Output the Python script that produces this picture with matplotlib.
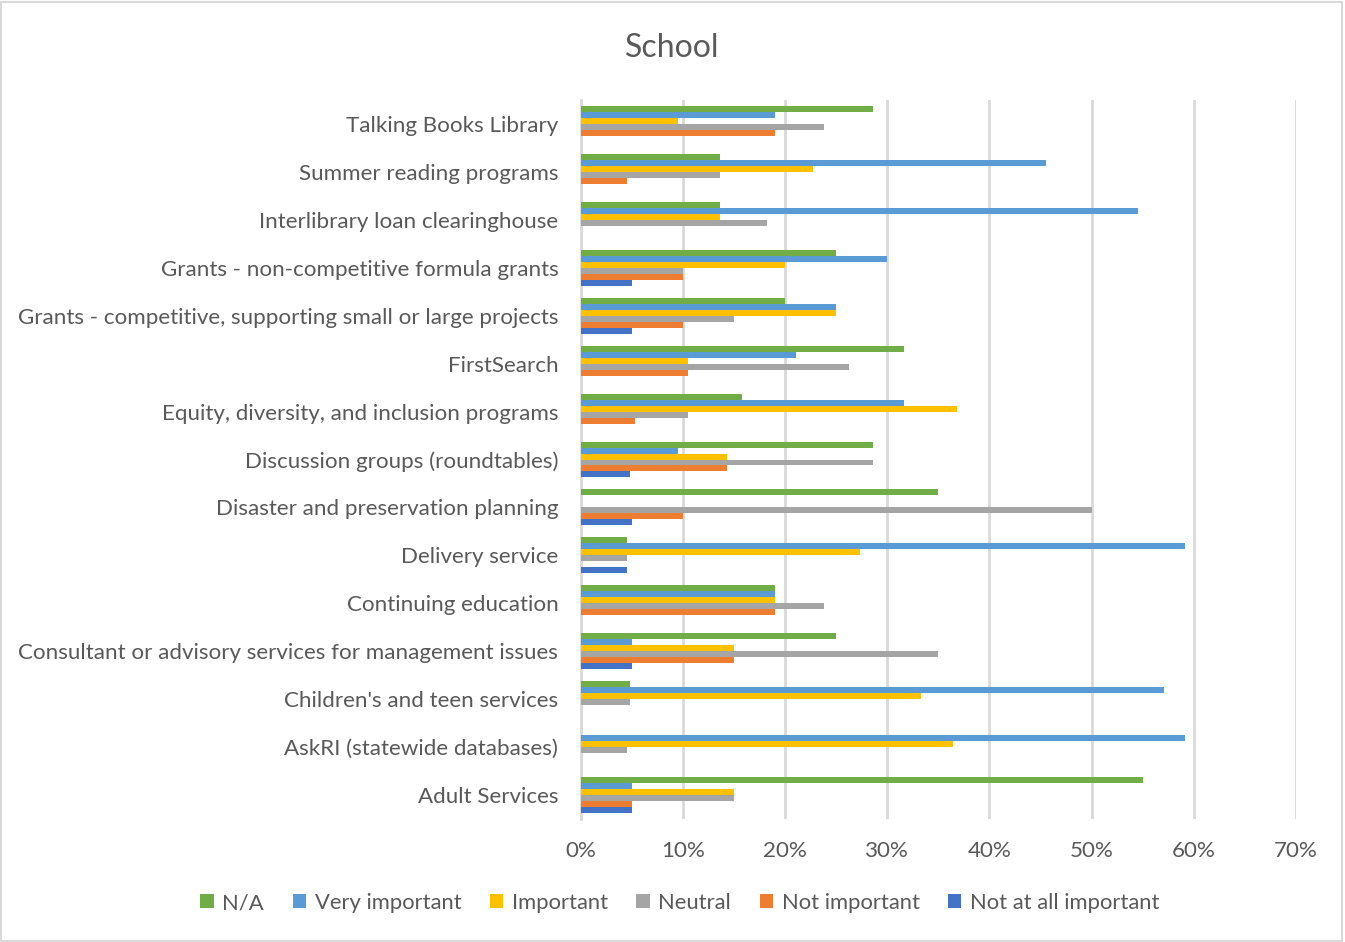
import numpy as np
import matplotlib
matplotlib.use("Agg")
import matplotlib.pyplot as plt
from matplotlib.patches import Rectangle
from matplotlib.ticker import PercentFormatter

plt.rcParams['font.family'] = ['Lato', 'DejaVu Sans']

# Services, listed top to bottom as they appear on the chart
services = [
    "Talking Books Library",
    "Summer reading programs",
    "Interlibrary loan clearinghouse",
    "Grants - non-competitive formula grants",
    "Grants - competitive, supporting small or large projects",
    "FirstSearch",
    "Equity, diversity, and inclusion programs",
    "Discussion groups (roundtables)",
    "Disaster and preservation planning",
    "Delivery service",
    "Continuing education",
    "Consultant or advisory services for management issues",
    "Children's and teen services",
    "AskRI (statewide databases)",
    "Adult Services",
]

# Share of respondents (%) per rating, same order as services
na_pct = [28.6, 13.6, 13.6, 25, 20, 31.6, 15.8, 28.6, 35, 4.5, 19.0, 25, 4.8, 0, 55]
very_important = [19.0, 45.5, 54.5, 30, 25, 21.1, 31.6, 9.5, 0, 59.1, 19.0, 5, 57.1, 59.1, 5]
important = [9.5, 22.7, 13.6, 20, 25, 10.5, 36.8, 14.3, 0, 27.3, 19.0, 15, 33.3, 36.4, 15]
neutral = [23.8, 13.6, 18.2, 10, 15, 26.3, 10.5, 28.6, 50, 4.5, 23.8, 35, 4.8, 4.5, 15]
not_important = [19.0, 4.5, 0, 10, 10, 10.5, 5.3, 14.3, 10, 0, 19.0, 15, 0, 0, 5]
not_at_all = [0, 0, 0, 5, 5, 0, 0, 4.8, 5, 4.5, 0, 5, 0, 0, 5]

series = [
    ("N/A", na_pct, "#70AD47"),
    ("Very important", very_important, "#5B9BD5"),
    ("Important", important, "#FFC000"),
    ("Neutral", neutral, "#A5A5A5"),
    ("Not important", not_important, "#ED7D31"),
    ("Not at all important", not_at_all, "#4472C4"),
]

text_col = "#595959"
grid_col = "#D9D9D9"

fig = plt.figure(figsize=(13.45, 9.42), dpi=100)
ax = fig.add_axes([0.4316, 0.1306, 0.5320, 0.7632])

n = len(services)
ypos = np.arange(n)[::-1]  # first service at the top
bar_h = 0.125
for i, (name, vals, col) in enumerate(series):
    offset = (i - 2.5) * bar_h
    ax.barh(ypos - offset, vals, height=bar_h, color=col, label=name,
            edgecolor="none", zorder=3)

ax.set_xlim(0, 70)
ax.set_ylim(-0.5, n - 0.5)
ax.set_xticks(np.arange(0, 71, 10))
ax.xaxis.set_major_formatter(PercentFormatter(decimals=0))
ax.set_yticks(ypos)
ax.set_yticklabels(services)
ax.tick_params(axis="both", length=0, colors=text_col, labelsize=16.1)
ax.tick_params(axis="x", pad=16)
ax.tick_params(axis="y", pad=16)
ax.grid(axis="x", color=grid_col, linewidth=2, zorder=0)
for side in ["top", "right", "bottom"]:
    ax.spines[side].set_visible(False)
ax.spines["left"].set_color(grid_col)
ax.spines["left"].set_linewidth(2)

fig.text(0.5, 1 - 48 / 942, "School", ha="center", va="center",
         fontsize=23, color=text_col)

leg = fig.legend(loc="center", bbox_to_anchor=(680 / 1345, 1 - 903 / 942),
                 ncol=6, frameon=False, fontsize=15.8, handlelength=0.6,
                 handleheight=0.6, handletextpad=0.4, columnspacing=1.3)
for t in leg.get_texts():
    t.set_color(text_col)

# light frame around the chart area
fig.patches.append(Rectangle((0.001, 0.001), 0.997, 0.997, transform=fig.transFigure,
                             fill=False, edgecolor=grid_col, linewidth=1.5))

fig.savefig("out.png", dpi=100)
